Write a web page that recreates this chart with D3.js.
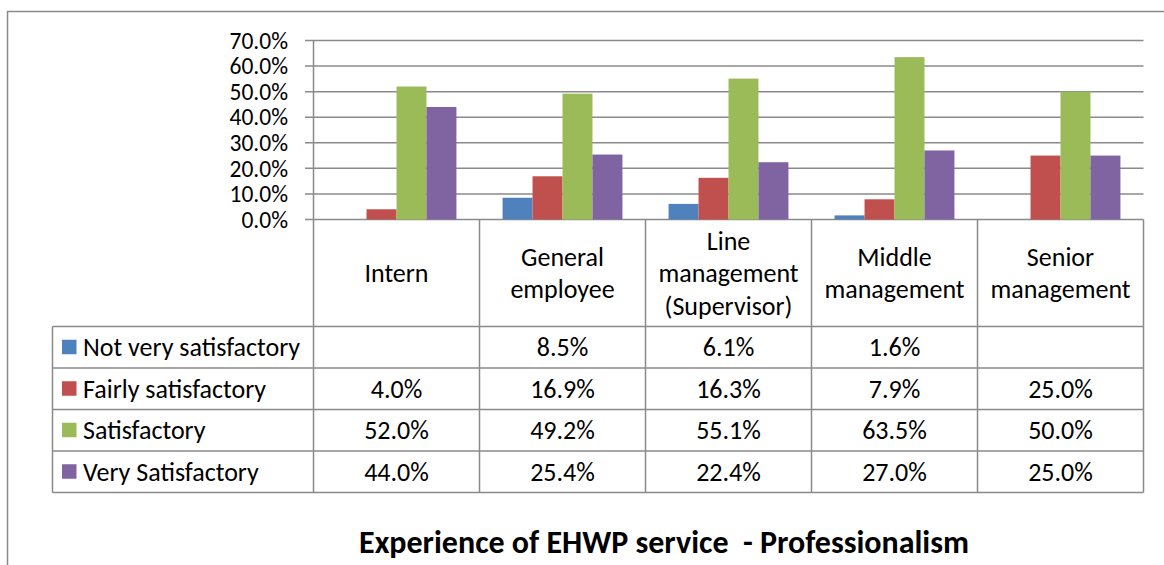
<!DOCTYPE html>
<html>
<head>
<meta charset="utf-8">
<script src="https://cdn.jsdelivr.net/npm/d3@7"></script>
<style>
  html, body { margin: 0; padding: 0; background: #fff; }
  svg { display: block; }
  text { font-family: Calibri, Carlito, Lato, "Open Sans", sans-serif; fill: #000; }
</style>
</head>
<body>
<svg id="chart" width="1164" height="565"></svg>
<script>
// Job levels (x categories) and the header text, one entry per line
const categories = ["Intern", "General employee", "Line management (Supervisor)", "Middle management", "Senior management"];
const categoryLines = [["Intern"], ["General", "employee"], ["Line", "management", "(Supervisor)"], ["Middle", "management"], ["Senior", "management"]];

// Rating series, values in percent (null = no response)
const seriesNames = ["Not very satisfactory", "Fairly satisfactory", "Satisfactory", "Very Satisfactory"];
const notVerySatisfactory = [null, 8.5, 6.1, 1.6, null];
const fairlySatisfactory = [4.0, 16.9, 16.3, 7.9, 25.0];
const satisfactory = [52.0, 49.2, 55.1, 63.5, 50.0];
const verySatisfactory = [44.0, 25.4, 22.4, 27.0, 25.0];
const seriesValues = [notVerySatisfactory, fairlySatisfactory, satisfactory, verySatisfactory];
const seriesColors = ["#4F81BD", "#C0504D", "#9BBB59", "#8064A2"];

const yTicks = [0, 10, 20, 30, 40, 50, 60, 70];
const title = "Experience of EHWP service  - Professionalism";

const svg = d3.select("#chart");
const gridColor = "#8a8a8a";
const fontSize = 26;

// chart area frame
svg.append("rect")
  .attr("x", 7.5).attr("y", 11.5)
  .attr("width", 1200).attr("height", 600)
  .attr("fill", "none").attr("stroke", gridColor).attr("stroke-width", 1.5);

const plotLeft = 313.5, plotRight = 1143.5;
const y = d3.scaleLinear().domain([0, 70]).range([219.5, 40.5]);
const x0 = d3.scaleBand().domain(categories).range([plotLeft, plotRight]);
const x1 = d3.scaleBand().domain(seriesNames).range([0, x0.bandwidth()])
  .paddingInner(0).paddingOuter(0.77);

// gridlines with tick stubs
svg.append("g").selectAll("line").data(yTicks).join("line")
  .attr("x1", 305).attr("x2", plotRight)
  .attr("y1", d => y(d)).attr("y2", d => y(d))
  .attr("stroke", gridColor).attr("stroke-width", 1.5);

// y tick labels
svg.append("g").selectAll("text").data(yTicks).join("text")
  .attr("x", 288).attr("y", d => y(d)).attr("dy", "0.35em")
  .attr("text-anchor", "end").attr("font-size", 23.5)
  .text(d => d3.format(".1f")(d) + "%");

// bars
const groups = svg.append("g").selectAll("g").data(categories).join("g")
  .attr("transform", d => `translate(${x0(d)},0)`);
groups.selectAll("rect")
  .data((c, ci) => seriesNames.map((s, si) => ({ s, si, v: seriesValues[si][ci] })).filter(d => d.v != null))
  .join("rect")
  .attr("x", d => x1(d.s))
  .attr("width", x1.bandwidth())
  .attr("y", d => y(d.v))
  .attr("height", d => y(0) - y(d.v))
  .attr("fill", d => seriesColors[d.si]);

// data table
const tableLeft = 52.5;
const headerBottom = 326.5;
const rowH = 41.5;
const rowTops = seriesNames.map((s, i) => headerBottom + i * rowH);
const tableBottom = headerBottom + seriesNames.length * rowH;
const colEdges = categories.map(c => x0(c)).concat([plotRight]);

const table = svg.append("g").attr("stroke", gridColor).attr("stroke-width", 1.5);
// horizontal rules
table.selectAll("line.h").data(rowTops.concat([tableBottom])).join("line")
  .attr("class", "h")
  .attr("x1", tableLeft).attr("x2", plotRight)
  .attr("y1", d => d).attr("y2", d => d);
// vertical rules
table.selectAll("line.v").data(colEdges).join("line")
  .attr("class", "v")
  .attr("x1", d => d).attr("x2", d => d)
  .attr("y1", (d, i) => i === 0 ? y(70) : y(0)).attr("y2", tableBottom);
table.append("line")
  .attr("x1", tableLeft).attr("x2", tableLeft)
  .attr("y1", headerBottom).attr("y2", tableBottom);

// category headers
const lineGap = 32.5;
const headerMid = 273;
svg.append("g").selectAll("text").data(categories).join("text")
  .attr("text-anchor", "middle").attr("font-size", fontSize)
  .attr("x", d => x0(d) + x0.bandwidth() / 2)
  .each(function(d, i) {
    const lines = categoryLines[i];
    const first = headerMid - (lines.length - 1) * lineGap / 2;
    d3.select(this).selectAll("tspan").data(lines).join("tspan")
      .attr("x", x0(d) + x0.bandwidth() / 2)
      .attr("y", (l, j) => first + j * lineGap)
      .attr("dy", "0.35em")
      .text(l => l);
  });

// legend keys and series names
const legend = svg.append("g").selectAll("g").data(seriesNames).join("g")
  .attr("transform", (d, i) => `translate(0,${rowTops[i] + rowH / 2})`);
legend.append("rect")
  .attr("x", 62).attr("y", -7.5).attr("width", 14.5).attr("height", 14.5)
  .attr("fill", (d, i) => seriesColors[i]);
legend.append("text")
  .attr("x", 83).attr("dy", "0.35em").attr("font-size", fontSize)
  .text(d => d);

// table values
const fmt = d3.format(".1f");
seriesNames.forEach((s, si) => {
  svg.append("g").selectAll("text")
    .data(categories.map((c, ci) => ({ c, v: seriesValues[si][ci] })).filter(d => d.v != null))
    .join("text")
    .attr("x", d => x0(d.c) + x0.bandwidth() / 2)
    .attr("y", rowTops[si] + rowH / 2)
    .attr("dy", "0.35em").attr("text-anchor", "middle").attr("font-size", fontSize)
    .text(d => fmt(d.v) + "%");
});

// title
svg.append("text")
  .attr("x", 664).attr("y", 553)
  .attr("text-anchor", "middle").attr("font-size", 32).attr("font-weight", "bold")
  .attr("xml:space", "preserve")
  .style("white-space", "pre")
  .text(title);
</script>
</body>
</html>
